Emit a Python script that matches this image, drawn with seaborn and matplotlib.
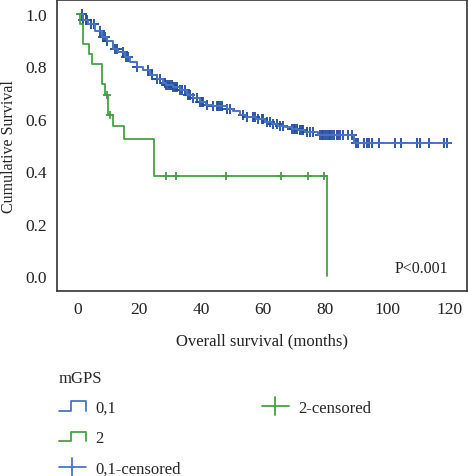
import numpy as np
import pandas as pd
import seaborn as sns
import matplotlib.pyplot as plt
from matplotlib.lines import Line2D
from matplotlib.legend_handler import HandlerBase


# =========================================================
# DATA
# =========================================================

# mGPS 0,1 : step times (months) and cumulative survival
t_low = [0, 1.9, 3.5, 5.7, 7.9, 9.5, 11.6, 13.2, 15.4, 17.0, 19.2, 21.3, 23.5,
         25.6, 27.7, 28.8, 31.0, 33.1, 35.3, 37.4, 39.6, 41.7, 43.9, 46.0,
         48.2, 50.3, 52.5, 54.6, 55.7, 57.8, 60.5, 62.7, 64.8, 67.0, 69.2,
         71.3, 73.5, 75.6, 77.7, 89.4, 120.3]
s_low = [1.0, 0.975, 0.962, 0.936, 0.911, 0.898, 0.866, 0.854, 0.835, 0.816,
         0.797, 0.784, 0.765, 0.750, 0.738, 0.730, 0.721, 0.710, 0.692, 0.680,
         0.663, 0.654, 0.650, 0.647, 0.638, 0.629, 0.616, 0.608, 0.606, 0.597,
         0.587, 0.581, 0.574, 0.568, 0.559, 0.555, 0.551, 0.549, 0.539, 0.506,
         0.506]

# mGPS 2
t_high = [0, 0.9, 1.7, 3.9, 4.7, 7.9, 8.9, 9.8, 11.7, 15.0, 24.9, 80.5]
s_high = [1.0, 0.962, 0.885, 0.846, 0.808, 0.731, 0.692, 0.615, 0.572, 0.524,
          0.383, 0.0]

# censored observations (months)
cens_low = [1.4, 1.9, 2.8, 3.2, 4.6, 5.5, 7.3, 8.4, 8.9, 9.5, 12.2, 12.7, 14.9,
            15.7, 16.5, 19.2, 22.9, 24.0, 25.6, 26.7, 28.3, 28.8, 29.4, 29.9,
            30.5, 31.0, 31.5, 32.1, 33.2, 33.7, 34.8, 35.8, 36.4, 37.5, 38.5,
            39.6, 40.2, 40.7, 41.8, 43.9, 45.0, 45.5, 46.1, 46.6, 48.2, 49.3,
            53.6, 54.7, 56.8, 57.4, 58.4, 59.5, 60.1, 61.1, 62.2, 63.3, 64.4,
            65.4, 66.5, 69.2, 69.8, 70.3, 70.8, 71.9, 72.4, 73.0, 74.1, 75.1,
            76.2, 78.4, 78.9, 79.4, 80.0, 80.5, 81.1, 81.6, 82.1, 82.7, 83.7,
            84.3, 84.8, 85.9, 87.5, 88.6, 90.0, 90.7, 92.4, 93.4, 94.0, 95.0,
            97.5, 102.6, 104.5, 109.6, 110.7, 113.6, 118.2, 119.3]
cens_high = [9.5, 10.5, 28.8, 31.8, 47.9, 65.8, 74.6, 79.7]

x_ticks = [0, 20, 40, 60, 80, 100, 120]
y_ticks = [0.0, 0.2, 0.4, 0.6, 0.8, 1.0]

BLUE_LINE, BLUE_MARK = "#4a74c4", "#1f4a9e"
GREEN_LINE, GREEN_MARK = "#46a046", "#2b862b"


def surv_at(times, t_step, s_step):
    """Survival value of a step curve at the given times."""
    idx = np.searchsorted(t_step, times, side="right") - 1
    return np.asarray(s_step)[idx]


class StepHandler(HandlerBase):
    """Legend icon shaped like a small survival step."""

    def __init__(self, color):
        super().__init__()
        self.color = color

    def create_artists(self, legend, orig_handle, xd, yd, w, h, fs, trans):
        xs = [xd, xd + 0.45 * w, xd + 0.45 * w, xd + w, xd + w]
        ys = [yd + 0.1 * h, yd + 0.1 * h, yd + 0.9 * h, yd + 0.9 * h, yd + 0.1 * h]
        ln = Line2D(xs, ys, color=self.color, lw=1.3, transform=trans)
        return [ln]


class CrossHandler(HandlerBase):
    def __init__(self, color):
        super().__init__()
        self.color = color

    def create_artists(self, legend, orig_handle, xd, yd, w, h, fs, trans):
        cy = yd + 0.5 * h
        a = Line2D([xd, xd + w], [cy, cy], color=self.color, lw=1.3, transform=trans)
        b = Line2D([xd + 0.5 * w] * 2, [cy - 0.75 * h, cy + 0.75 * h],
                   color=self.color, lw=1.3, transform=trans)
        return [a, b]


# =========================================================
# PLOT
# =========================================================

sns.set_theme(style="white")
plt.rcParams["font.family"] = ["Liberation Serif", "DejaVu Serif"]

fig = plt.figure(figsize=(4.68, 4.77), dpi=100)
ax = fig.add_axes([0.122, 0.388, 0.876, 0.61])

sns.lineplot(x=t_low, y=s_low, drawstyle="steps-post", estimator=None,
             sort=False, color=BLUE_LINE, lw=1.4, ax=ax)
sns.lineplot(x=t_high, y=s_high, drawstyle="steps-post", estimator=None,
             sort=False, color=GREEN_LINE, lw=1.3, ax=ax)

cl = pd.DataFrame({"t": cens_low, "s": surv_at(cens_low, t_low, s_low)})
ch = pd.DataFrame({"t": cens_high, "s": surv_at(cens_high, t_high, s_high)})
sns.scatterplot(data=cl, x="t", y="s", marker="+", s=45, linewidth=1.3,
                color=BLUE_MARK, ax=ax)
sns.scatterplot(data=ch, x="t", y="s", marker="+", s=40, linewidth=1.1,
                color=GREEN_MARK, ax=ax)

ax.set_xlim(-6.5, 125.8)
ax.set_ylim(-0.057, 1.053)
ax.set_xticks(x_ticks)
ax.set_yticks(y_ticks)
ax.set_yticklabels([f"{v:.1f}" for v in y_ticks])
ax.tick_params(length=0, labelsize=12.5, colors="#222222", pad=7)
ax.set_xlabel("Overall survival (months)", fontsize=12, color="#222222", labelpad=11)
ax.set_ylabel("Cumulative Survival", fontsize=11.5, color="#222222", labelpad=6)
for sp in ax.spines.values():
    sp.set_color("#333333")
    sp.set_linewidth(1.2)

ax.text(119.8, 0.031, "P<0.001", ha="right", va="center", fontsize=11.5,
        color="#222222")

# legend: three entries in the first column, one in the second
h_low, h_high, h_cl, h_ch = object(), object(), object(), object()
blank1, blank2 = Line2D([], [], alpha=0), Line2D([], [], alpha=0)
leg = fig.legend(
    [h_low, h_high, h_cl, h_ch, blank1, blank2],
    ["0,1", "2", "0,1-censored", "2-censored", "", ""],
    handler_map={h_low: StepHandler(BLUE_LINE), h_high: StepHandler(GREEN_LINE),
                 h_cl: CrossHandler(BLUE_LINE), h_ch: CrossHandler(GREEN_LINE)},
    title="mGPS", alignment="left", ncol=2, frameon=False, fontsize=12,
    title_fontsize=12, loc="upper left", bbox_to_anchor=(0.112, 0.237),
    handlelength=1.6, handletextpad=0.55, labelspacing=0.86, columnspacing=4.9,
    borderaxespad=0,
)

fig.savefig("out.png", dpi=100)
